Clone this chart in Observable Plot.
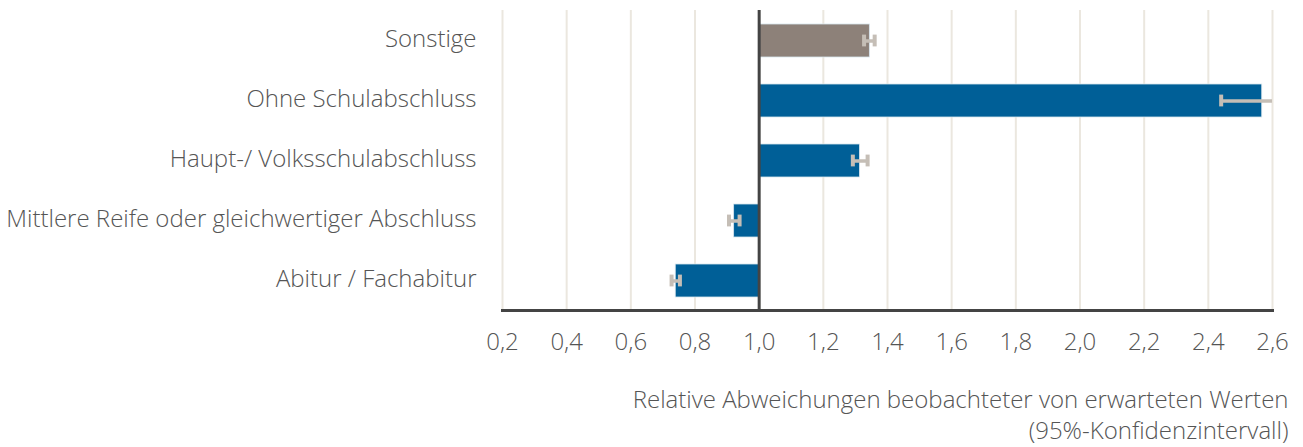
<!DOCTYPE html>
<html>
<head>
<meta charset="utf-8">
<script src="https://cdn.jsdelivr.net/npm/d3@7"></script>
<script src="https://cdn.jsdelivr.net/npm/@observablehq/plot@0.6"></script>
<style>
  html, body { margin: 0; padding: 0; background: #fff; }
</style>
</head>
<body>
<div id="chart"></div>
<script>
const categories = [
  "Sonstige",
  "Ohne Schulabschluss",
  "Haupt-/ Volksschulabschluss",
  "Mittlere Reife oder gleichwertiger Abschluss",
  "Abitur / Fachabitur"
];
const values = [1.345, 2.568, 1.314, 0.922, 0.740];
const lower  = [1.327, 2.440, 1.292, 0.906, 0.727];
const upper  = [1.360, 2.680, 1.338, 0.939, 0.753];
const groups = ["Sonstige", "Schulabschluss", "Schulabschluss", "Schulabschluss", "Schulabschluss"];
const xTicks = [0.2, 0.4, 0.6, 0.8, 1.0, 1.2, 1.4, 1.6, 1.8, 2.0, 2.2, 2.4, 2.6];
const baseline = 1.0;
const axisTitle = "Relative Abweichungen beobachteter von erwarteten Werten\n(95%-Konfidenzintervall)";

const data = categories.map((c, i) => ({cat: c, value: values[i], lo: lower[i], hi: upper[i], group: groups[i]}));

const chart = Plot.plot({
  width: 1303,
  height: 447,
  marginLeft: 502,
  marginRight: 31,
  marginTop: 10,
  marginBottom: 137,
  style: {fontFamily: "'Open Sans'", fontSize: "24px", fontWeight: 300, color: "#555", background: "#fff"},
  x: {domain: [0.2, 2.6], label: null},
  y: {domain: categories, paddingInner: 0.45, paddingOuter: 0.21, label: null},
  color: {domain: ["Sonstige", "Schulabschluss"], range: ["#8d8179", "#005f97"]},
  marks: [
    Plot.gridX(xTicks, {stroke: "#ebe7df", strokeOpacity: 1, strokeWidth: 2}),
    Plot.axisX(xTicks, {tickFormat: d => d.toFixed(1).replace(".", ","), tickSize: 0, tickPadding: 22, label: null}),
    Plot.axisY({tickSize: 0, tickPadding: 26, dy: -1.5, label: null}),
    Plot.barX(data, {y: "cat", x1: baseline, x2: "value", fill: "group", stroke: "#d8e5ee", strokeWidth: 0.8}),
    Plot.ruleX([baseline], {stroke: "#444", strokeWidth: 3}),
    Plot.frame({anchor: "bottom", stroke: "#444", strokeWidth: 3}),
    Plot.ruleY(data, {y: "cat", x1: "lo", x2: "hi", stroke: "#c5beb6", strokeWidth: 3.5, clip: true}),
    Plot.tickX(data, {x: "lo", y: "cat", stroke: "#c5beb6", strokeWidth: 4, insetTop: 10.6, insetBottom: 10.6, clip: true}),
    Plot.tickX(data, {x: "hi", y: "cat", stroke: "#c5beb6", strokeWidth: 4, insetTop: 10.6, insetBottom: 10.6, clip: true}),
    Plot.text([axisTitle], {frameAnchor: "bottom-right", dx: 16, dy: 75, textAnchor: "end", lineAnchor: "top", lineHeight: 1.3, fontSize: 24, fill: "#555"})
  ]
});
document.getElementById("chart").appendChild(chart);
</script>
</body>
</html>
